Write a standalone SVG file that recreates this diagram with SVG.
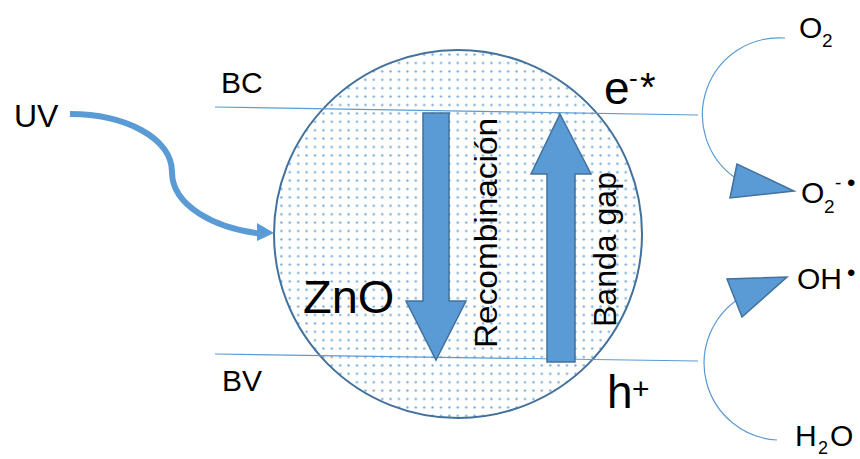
<svg xmlns="http://www.w3.org/2000/svg" width="860" height="459" viewBox="0 0 860 459">
<style>
text{font-family:"Liberation Sans",Arial,sans-serif;fill:#000}
.thin{fill:none;stroke:#5B9BD5;stroke-width:1.2}
.blk{fill:#5B9BD5;stroke:#41719C;stroke-width:1.5;stroke-linejoin:miter}
</style>
<defs>
<pattern id="dots" width="8.4" height="8.4" patternUnits="userSpaceOnUse">
<circle cx="4.2" cy="4.2" r="1.2" fill="#5B9BD5"/>
</pattern>
</defs>
<rect width="860" height="459" fill="#fff"/>
<g id="zno">
<circle cx="458" cy="234" r="184" fill="#fff"/>
<circle cx="458" cy="234" r="184" fill="url(#dots)" fill-opacity="0.85" stroke="#41719C" stroke-width="2"/>
<text x="303" y="313" font-size="47">ZnO</text>
</g>
<g id="connectors">
<line class="thin" x1="215" y1="107" x2="698" y2="115"/>
<line class="thin" x1="215" y1="354" x2="698" y2="361"/>
<path d="M70,114 C125,114 172,138 172,172 C172,206 215,228 260,233.5" fill="none" stroke="#5B9BD5" stroke-width="6"/>
<polygon points="257,223 274,233 257,241" fill="#5B9BD5"/>
<path class="thin" d="M785,38 A77,77 0 0 0 734,177"/>
<polygon class="blk" points="737,164 730,198 794,191"/>
<path class="thin" d="M777,440 A77,77 0 0 1 740,298"/>
<polygon class="blk" points="727,279 742,317 787,277"/>
</g>
<g id="recombinacion">
<polygon class="blk" points="423,113 449,113 449,301 466,301 436,360 406,301 423,301"/>
<text transform="translate(497,348) rotate(-90)" font-size="32" textLength="230" lengthAdjust="spacingAndGlyphs">Recombinación</text>
</g>
<g id="banda-gap">
<polygon class="blk" points="560,114 591,174 575,174 575,362 547,362 547,174 531,174"/>
<text transform="translate(616,327) rotate(-90)" font-size="32" textLength="155" lengthAdjust="spacingAndGlyphs">Banda gap</text>
</g>
<g id="uv"><text x="14" y="127" font-size="32">UV</text></g>
<g id="bc"><text x="221" y="93" font-size="30">BC</text></g>
<g id="bv"><text x="222" y="391" font-size="30">BV</text></g>
<g id="electron">
<text x="604" y="104" font-size="46">e</text>
<text x="629" y="87" font-size="26">-</text>
<text x="640" y="101" font-size="40">*</text>
</g>
<g id="hole">
<text x="607" y="408" font-size="46">h</text>
<text x="632" y="399" font-size="30">+</text>
</g>
<g id="o2">
<text x="799" y="38" font-size="30">O</text>
<text x="822" y="47" font-size="19">2</text>
</g>
<g id="o2-radical">
<text x="801" y="203" font-size="30">O</text>
<text x="824" y="213" font-size="19">2</text>
<text x="835" y="189" font-size="19">-</text>
<text x="847" y="191" font-size="24">•</text>
</g>
<g id="oh">
<text x="797" y="289" font-size="30">OH</text>
<text x="847" y="281" font-size="24">•</text>
</g>
<g id="h2o">
<text x="795" y="446" font-size="30">H</text>
<text x="818" y="454" font-size="18">2</text>
<text x="830" y="446" font-size="30">O</text>
</g>
</svg>
